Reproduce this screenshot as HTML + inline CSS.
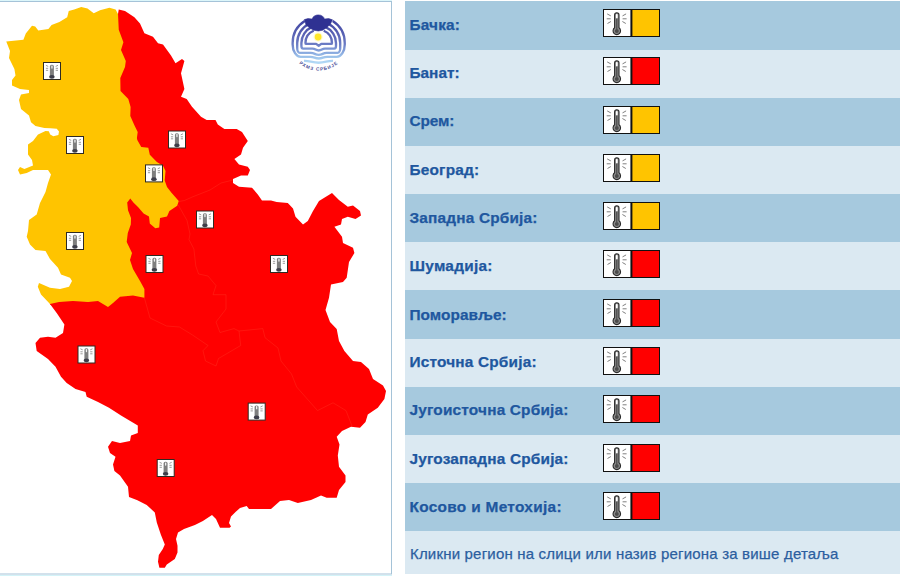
<!DOCTYPE html>
<html lang="sr"><head><meta charset="utf-8"><title>Упозорења</title>
<style>
html,body{margin:0;padding:0;background:#fff;}
body{width:900px;height:576px;overflow:hidden;position:relative;font-family:"Liberation Sans",sans-serif;}
#map{position:absolute;left:0;top:0;width:392px;height:576px;}
#tbl{position:absolute;left:405px;top:0;width:495px;height:576px;}
.row{position:absolute;left:0;width:495px;}
.d{background:#a6c9de;}
.l{background:#dbe9f2;}
.lab{position:absolute;left:4.5px;color:#20579f;font-weight:bold;font-size:15.4px;white-space:nowrap;line-height:16px;letter-spacing:0.18px;-webkit-text-stroke:0.25px #20579f;}
.li{position:absolute;left:198px;}
.note{position:absolute;left:5px;color:#2b5e9f;font-size:15px;white-space:nowrap;line-height:16px;letter-spacing:0.19px;-webkit-text-stroke:0.25px #2b5e9f;}
</style></head><body>

<svg id="map" width="392" height="576" viewBox="0 0 392 576">
<rect x="0" y="0" width="392" height="576" fill="#fff"/>
<rect x="-5" y="0" width="397" height="1" fill="#dcf6fa"/><rect x="-5" y="575" width="397" height="1" fill="#d3f3f8"/>
<rect x="-5" y="1.5" width="396.5" height="572.5" fill="none" stroke="#a5c3d8" stroke-width="1"/>
<polygon points="118.75,9.4 125,10.9 134.4,17.2 140,23.4 144.4,33.3 153,36.7 158,43.3 163,44.4 171,55.6 175.5,63.3 182,59 184.4,61 181,73.3 184.4,89 181,96.7 186.7,99 192,106.7 201,116.7 206.7,120 215.5,120 217.8,124.4 224.4,129 236.7,129 242,132 247.8,141 243,147.8 241,154.4 234.4,159 239,164.4 247.8,166.7 250,170 247.8,175.5 241,175.5 233,179 233,183 239,186.7 252,187.8 257.8,194.4 262,200.5 271,200.5 276.7,202 287.8,203 293,208.5 295.5,216.7 303,224.4 307.8,221 313,211 319,201 332,193 339,200 347.8,206.7 353,205.5 360,211 361,215.5 355.5,219 347.8,216.7 342,219 341,224.4 334.4,226.7 342,236.7 343,243 353,247.8 354.4,253 349,262 346.7,277.8 343,282 331,284.4 329,297.8 325.5,310 330,322 336.7,329 339,341 344.4,351 353,361 361,362 369,369 373,379 383,385.5 386,391 384.4,399 377.8,407.8 367.8,414.4 365.5,422 360,427.8 351,426.7 342,431 336.7,436.7 339.5,444.4 337.8,455.5 339,466.7 345.5,475.5 345.5,482 339,490 336.7,497.8 326.7,497.8 321,495.5 311,500 297.8,503 289,500 280,501 271,509 249,509 246.7,506 240,508 235.5,512 231,516.4 229,523 231,526.4 229.6,527.7 220,527.7 216,519 212,515 202.9,521 194.9,525 184,529 178,532.4 176,539 177.5,545.8 177.5,552.5 174.8,559 166.8,564.5 164.8,567.8 159.4,567.8 158,561.8 158.8,555 162.8,549 164.8,544.5 160.8,534.4 156.8,522.4 154.8,512.4 146.7,505 137.4,500.3 129,497 128,486.7 120,475.5 114.4,471 113,464.4 115.5,456.7 110,453 108,446.7 112,441 120,443 130,441 131,435.5 137.8,433 137.8,425.5 121,415.5 109,407.8 98,402 86.7,396.7 85.5,392 75.5,389 66.7,383 61,376.7 55.5,366.7 48,359 36.7,351 35.5,343 40,337.8 48,336.7 55.5,337.8 63,333 64.4,324.4 56.7,313 50,304 59,302 73,301 88,302 98,301 108,307 113,303 120,296.7 133,295.5 144.4,297.8 144.4,289 140,281 133,269 130,260 132,253 126.7,242 127.8,233 130.8,224.4 131,218 128,210.3 127.2,202.5 130.3,198.6 133.4,202.5 138,207 143.6,213.4 149,216.6 149.8,223.6 155.3,228.3 159.2,227.5 160,218 167,216.6 169.4,211 177.2,205.8 178.75,201 171.7,193 167,186.9 164.7,180.6 165.5,171 163,165.8 156.9,161.9 149.8,154.8 148.3,147.8 141.25,147 137.3,140 136.9,138 137.7,131.9 134.5,125.6 130.3,116 130.6,107 128.3,99 120.5,91 120.3,78 125,67 125.8,61 121,50 123.4,42.2 118.75,29.7 118,14" fill="#ff0000"/>
<polyline points="50,304 59,302 73,301 88,302 98,301 108,307 113,303 120,296.7 133,295.5 144.4,297.8 144.4,289 140,281 133,269 130,260 132,253 126.7,242 127.8,233 130.8,224.4 131,218 128,210.3 127.2,202.5 130.3,198.6 133.4,202.5 138,207 143.6,213.4 149,216.6 149.8,223.6 155.3,228.3 159.2,227.5 160,218 167,216.6 169.4,211 177.2,205.8 178.75,201 171.7,193 167,186.9 164.7,180.6 165.5,171 163,165.8 156.9,161.9 149.8,154.8 148.3,147.8 141.25,147 137.3,140 136.9,138 137.7,131.9 134.5,125.6 130.3,116 130.6,107 128.3,99 120.5,91 120.3,78 125,67 125.8,61 121,50 123.4,42.2 118.75,29.7 118,14" fill="none" stroke="#ff0000" stroke-width="1.6" stroke-linejoin="round"/>
<polygon points="118,14 115.6,9.4 109.4,7.8 100,10.2 93.75,13.3 87.5,8.6 81.25,7 74.2,9.4 68.75,10.9 67.2,17.2 59.4,21.9 51.6,25 48.4,28.9 38.3,30.5 35.2,26.6 32,25.8 25.8,33.6 23.4,39.8 6.25,41.4 10,51 9,58 14.4,69 15.5,75.5 12,80 12,85.5 20,89 29,90 29,93 21,94.4 19,100 21,109 29,115.5 31,122.2 35.5,126 44.4,128 50.5,128.3 56.8,128.8 59,131.5 58.4,135 53.3,136.3 50.2,134.5 48.8,131.3 45.5,131.1 38,134.4 33,141 28,144.4 28,154.4 32,160 33,165.5 24.4,169 20,167 18,170 20,174.4 26.7,173 33,170 48,170 51,174.4 48,183 45.5,192 40,203 36.7,214.4 29,220 28,231 26.7,236.7 30,244.4 35.5,250 45.5,251 50,259 58,267.8 61,274.4 70,277.8 72,281 69,286.7 60,289 50,287.8 39,283 37.8,286.7 41,294.4 50,304 59,302 73,301 88,302 98,301 108,307 113,303 120,296.7 133,295.5 144.4,297.8 144.4,289 140,281 133,269 130,260 132,253 126.7,242 127.8,233 130.8,224.4 131,218 128,210.3 127.2,202.5 130.3,198.6 133.4,202.5 138,207 143.6,213.4 149,216.6 149.8,223.6 155.3,228.3 159.2,227.5 160,218 167,216.6 169.4,211 177.2,205.8 178.75,201 171.7,193 167,186.9 164.7,180.6 165.5,171 163,165.8 156.9,161.9 149.8,154.8 148.3,147.8 141.25,147 137.3,140 136.9,138 137.7,131.9 134.5,125.6 130.3,116 130.6,107 128.3,99 120.5,91 120.3,78 125,67 125.8,61 121,50 123.4,42.2 118.75,29.7" fill="#ffc400"/>
<polyline points="178.75,201.5 184.4,200.5 193,196.7 210,190 221,183 233,180" fill="none" stroke="#ff4a30" stroke-width="0.9" opacity="0.32" stroke-linejoin="round"/>
<polyline points="178.3,205 187,220.5 190,234 189,239.6 193.9,249 195.8,266 198.6,274 208,276 216,285.6 213,294.7 226,294.7 226,309 216,322 220,332.5 234,328.6 239,331" fill="none" stroke="#ff4a30" stroke-width="0.9" opacity="0.32" stroke-linejoin="round"/>
<polyline points="239,331 262.8,328.6 265,337.7 278,348 281,361 291.5,374 296.7,387 317.5,410.6 333,402.8 346,410.6 352,426" fill="none" stroke="#ff4a30" stroke-width="0.9" opacity="0.32" stroke-linejoin="round"/>
<polyline points="239,331 240.7,345.5 218.5,358.5 216,366 205.5,361 203,350.7 208,345.5 192.5,335 179.5,327 166.5,326 150,318 144.4,297.8" fill="none" stroke="#ff4a30" stroke-width="0.9" opacity="0.32" stroke-linejoin="round"/>
<g transform="translate(43,62)"><rect x="0.5" y="0.5" width="17" height="17" fill="#fff" stroke="#2e2a22" stroke-width="1"/>
<rect x="6.900" y="2.800" width="4" height="12.500" rx="1.700" fill="#7e7e7e"/><rect x="8.300" y="3.500" width="1.300" height="3.200" rx="0.600" fill="#f0f0f0"/>
<ellipse cx="8.900" cy="14.800" rx="2.800" ry="1.850" fill="#3e3e4a"/>
<path d="M2.900 3.300l2.300 1.100M2.900 6.300h2.300M2.900 8.300h2.300M15 3.300l-2.300 1.100M15 6.300h-2.300M15 8.300h-2.300" stroke="#9c9c9c" stroke-width="1"/></g>
<g transform="translate(66,136)"><rect x="0.5" y="0.5" width="17" height="17" fill="#fff" stroke="#2e2a22" stroke-width="1"/>
<rect x="6.900" y="2.800" width="4" height="12.500" rx="1.700" fill="#7e7e7e"/><rect x="8.300" y="3.500" width="1.300" height="3.200" rx="0.600" fill="#f0f0f0"/>
<ellipse cx="8.900" cy="14.800" rx="2.800" ry="1.850" fill="#3e3e4a"/>
<path d="M2.900 3.300l2.300 1.100M2.900 6.300h2.300M2.900 8.300h2.300M15 3.300l-2.300 1.100M15 6.300h-2.300M15 8.300h-2.300" stroke="#9c9c9c" stroke-width="1"/></g>
<g transform="translate(168,130.5)"><rect x="0.5" y="0.5" width="17" height="17" fill="#fff" stroke="#2e2a22" stroke-width="1"/>
<rect x="6.900" y="2.800" width="4" height="12.500" rx="1.700" fill="#7e7e7e"/><rect x="8.300" y="3.500" width="1.300" height="3.200" rx="0.600" fill="#f0f0f0"/>
<ellipse cx="8.900" cy="14.800" rx="2.800" ry="1.850" fill="#3e3e4a"/>
<path d="M2.900 3.300l2.300 1.100M2.900 6.300h2.300M2.900 8.300h2.300M15 3.300l-2.300 1.100M15 6.300h-2.300M15 8.300h-2.300" stroke="#9c9c9c" stroke-width="1"/></g>
<g transform="translate(145.0,164.4)"><rect x="0.5" y="0.5" width="17" height="17" fill="#fff" stroke="#2e2a22" stroke-width="1"/>
<rect x="6.900" y="2.800" width="4" height="12.500" rx="1.700" fill="#7e7e7e"/><rect x="8.300" y="3.500" width="1.300" height="3.200" rx="0.600" fill="#f0f0f0"/>
<ellipse cx="8.900" cy="14.800" rx="2.800" ry="1.850" fill="#3e3e4a"/>
<path d="M2.900 3.300l2.300 1.100M2.900 6.300h2.300M2.900 8.300h2.300M15 3.300l-2.300 1.100M15 6.300h-2.300M15 8.300h-2.300" stroke="#9c9c9c" stroke-width="1"/></g>
<g transform="translate(66,232)"><rect x="0.5" y="0.5" width="17" height="17" fill="#fff" stroke="#2e2a22" stroke-width="1"/>
<rect x="6.900" y="2.800" width="4" height="12.500" rx="1.700" fill="#7e7e7e"/><rect x="8.300" y="3.500" width="1.300" height="3.200" rx="0.600" fill="#f0f0f0"/>
<ellipse cx="8.900" cy="14.800" rx="2.800" ry="1.850" fill="#3e3e4a"/>
<path d="M2.900 3.300l2.300 1.100M2.900 6.300h2.300M2.900 8.300h2.300M15 3.300l-2.300 1.100M15 6.300h-2.300M15 8.300h-2.300" stroke="#9c9c9c" stroke-width="1"/></g>
<g transform="translate(145.5,255)"><rect x="0.5" y="0.5" width="17" height="17" fill="#fff" stroke="#2e2a22" stroke-width="1"/>
<rect x="6.900" y="2.800" width="4" height="12.500" rx="1.700" fill="#7e7e7e"/><rect x="8.300" y="3.500" width="1.300" height="3.200" rx="0.600" fill="#f0f0f0"/>
<ellipse cx="8.900" cy="14.800" rx="2.800" ry="1.850" fill="#3e3e4a"/>
<path d="M2.900 3.300l2.300 1.100M2.900 6.300h2.300M2.900 8.300h2.300M15 3.300l-2.300 1.100M15 6.300h-2.300M15 8.300h-2.300" stroke="#9c9c9c" stroke-width="1"/></g>
<g transform="translate(196,210.5)"><rect x="0.5" y="0.5" width="17" height="17" fill="#fff" stroke="#2e2a22" stroke-width="1"/>
<rect x="6.900" y="2.800" width="4" height="12.500" rx="1.700" fill="#7e7e7e"/><rect x="8.300" y="3.500" width="1.300" height="3.200" rx="0.600" fill="#f0f0f0"/>
<ellipse cx="8.900" cy="14.800" rx="2.800" ry="1.850" fill="#3e3e4a"/>
<path d="M2.900 3.300l2.300 1.100M2.900 6.300h2.300M2.900 8.300h2.300M15 3.300l-2.300 1.100M15 6.300h-2.300M15 8.300h-2.300" stroke="#9c9c9c" stroke-width="1"/></g>
<g transform="translate(270,255)"><rect x="0.5" y="0.5" width="17" height="17" fill="#fff" stroke="#2e2a22" stroke-width="1"/>
<rect x="6.900" y="2.800" width="4" height="12.500" rx="1.700" fill="#7e7e7e"/><rect x="8.300" y="3.500" width="1.300" height="3.200" rx="0.600" fill="#f0f0f0"/>
<ellipse cx="8.900" cy="14.800" rx="2.800" ry="1.850" fill="#3e3e4a"/>
<path d="M2.900 3.300l2.300 1.100M2.900 6.300h2.300M2.900 8.300h2.300M15 3.300l-2.300 1.100M15 6.300h-2.300M15 8.300h-2.300" stroke="#9c9c9c" stroke-width="1"/></g>
<g transform="translate(77.5,345.5)"><rect x="0.5" y="0.5" width="17" height="17" fill="#fff" stroke="#2e2a22" stroke-width="1"/>
<rect x="6.900" y="2.800" width="4" height="12.500" rx="1.700" fill="#7e7e7e"/><rect x="8.300" y="3.500" width="1.300" height="3.200" rx="0.600" fill="#f0f0f0"/>
<ellipse cx="8.900" cy="14.800" rx="2.800" ry="1.850" fill="#3e3e4a"/>
<path d="M2.900 3.300l2.300 1.100M2.900 6.300h2.300M2.900 8.300h2.300M15 3.300l-2.300 1.100M15 6.300h-2.300M15 8.300h-2.300" stroke="#9c9c9c" stroke-width="1"/></g>
<g transform="translate(247.7,402.6)"><rect x="0.5" y="0.5" width="17" height="17" fill="#fff" stroke="#2e2a22" stroke-width="1"/>
<rect x="6.900" y="2.800" width="4" height="12.500" rx="1.700" fill="#7e7e7e"/><rect x="8.300" y="3.500" width="1.300" height="3.200" rx="0.600" fill="#f0f0f0"/>
<ellipse cx="8.900" cy="14.800" rx="2.800" ry="1.850" fill="#3e3e4a"/>
<path d="M2.900 3.300l2.300 1.100M2.900 6.300h2.300M2.900 8.300h2.300M15 3.300l-2.300 1.100M15 6.300h-2.300M15 8.300h-2.300" stroke="#9c9c9c" stroke-width="1"/></g>
<g transform="translate(156.7,459)"><rect x="0.5" y="0.5" width="17" height="17" fill="#fff" stroke="#2e2a22" stroke-width="1"/>
<rect x="6.900" y="2.800" width="4" height="12.500" rx="1.700" fill="#7e7e7e"/><rect x="8.300" y="3.500" width="1.300" height="3.200" rx="0.600" fill="#f0f0f0"/>
<ellipse cx="8.900" cy="14.800" rx="2.800" ry="1.850" fill="#3e3e4a"/>
<path d="M2.900 3.300l2.300 1.100M2.900 6.300h2.300M2.900 8.300h2.300M15 3.300l-2.300 1.100M15 6.300h-2.300M15 8.300h-2.300" stroke="#9c9c9c" stroke-width="1"/></g>
<g id="logo"><defs><linearGradient id="lg" gradientUnits="userSpaceOnUse" x1="0" y1="16" x2="0" y2="63"><stop offset="0" stop-color="#3a3c9e"/><stop offset="0.25" stop-color="#4d54ab"/><stop offset="0.45" stop-color="#5f69b8"/><stop offset="0.6" stop-color="#6b7cc4"/><stop offset="0.74" stop-color="#82a0da"/><stop offset="0.88" stop-color="#9fc5ec"/><stop offset="1" stop-color="#b2dAf6"/></linearGradient></defs>
<g fill="none" stroke="url(#lg)" stroke-width="2.35" stroke-linejoin="round">
<path d="M304.70 21.03 A26.05 26.05 0 0 0 292.65 43.00 V44.40 C292.65 51.27 296.25 56.90 300.65 56.90 H310.20 C314.45 56.90 314.45 58.50 318.70 58.50 C322.95 58.50 322.95 56.90 327.20 56.90 H336.75 C341.15 56.90 344.75 51.27 344.75 44.40 V43.00 A26.05 26.05 0 0 0 332.70 21.03"/>
<path d="M309.20 23.71 A21.5 21.5 0 0 0 297.20 43.00 V47.90 C297.20 50.65 298.37 52.90 299.80 52.90 H310.70 C314.70 52.90 314.70 54.80 318.70 54.80 C322.70 54.80 322.70 52.90 326.70 52.90 H337.60 C339.03 52.90 340.20 50.65 340.20 47.90 V43.00 A21.5 21.5 0 0 0 328.20 23.71"/>
<path d="M311.70 27.18 A17.3 17.3 0 0 0 301.40 43.00 V45.80 C301.40 47.34 302.16 48.60 303.10 48.60 H312.40 C315.55 48.60 315.55 50.50 318.70 50.50 C321.85 50.50 321.85 48.60 325.00 48.60 H334.30 C335.24 48.60 336.00 47.34 336.00 45.80 V43.00 A17.3 17.3 0 0 0 325.70 27.18"/>
<path d="M313.70 30.73 A13.25 13.25 0 0 0 305.45 42.90 V42.90 C305.45 43.45 305.81 43.90 306.25 43.90 H316.10 L318.70 45.80 L321.30 43.90 H331.15 C331.59 43.90 331.95 43.45 331.95 42.90 V42.90 A13.25 13.25 0 0 0 323.70 30.73"/>
<path d="M304 60.9 C309 60.6 312 62.7 318.7 62.7 C325 62.7 328 60.6 333 60.9"/>
</g>
<path d="M304.3 19.6 L308 18.6 L312.2 19.1 C312.6 16.6 315.2 14.9 318.3 14.9 C321.6 14.9 324 16.6 324.4 19.1 L328.6 18.6 L332.5 19.8 L330.4 24 L326.9 27.4 L322.7 30.2 L318.2 31 L313.7 30.2 L309.5 27.8 L306 24.7 Z" fill="#2f3192" stroke="#2f3192" stroke-width="0.6" stroke-linejoin="round"/>
<circle cx="318.1" cy="37" r="4.7" fill="#fffbd6"/><circle cx="318.1" cy="37" r="3.4" fill="#ffe62a"/>
<path id="lt" d="M296.32 60.87 A30.6 30.6 0 0 0 341.08 60.87" fill="none"/>
<text font-family="Liberation Sans, sans-serif" font-size="4.6" font-weight="bold" fill="#4a4e96" letter-spacing="0.9" text-anchor="middle"><textPath href="#lt" startOffset="50%">РХМЗ СРБИЈЕ</textPath></text></g>
</svg>
<div id="tbl">
<div class="row d" style="top:1.0px;height:49.7px"><span class="lab" style="top:16.45px;letter-spacing:0.18px">Бачка:</span></div><div style="position:absolute;left:0;top:9.00px"><svg class="li" width="57" height="28" viewBox="0 0 57 28"><rect x="0.5" y="0.5" width="56" height="27" fill="#fff" stroke="#111" stroke-width="1"/>
<rect x="29" y="1" width="27" height="26" fill="#ffc400"/><rect x="27.4" y="0" width="2" height="28" fill="#111"/>
<path d="M11.6 5.9a2.2 2.2 0 0 1 4.4 0v12.9a3.75 3.750 0 1 1 -4.4 0z" fill="#8c8c8c" stroke="#2b2b2b" stroke-width="1.1"/>
<rect x="12.900" y="4.900" width="1.800" height="4.300" rx="0.800" fill="#fff"/><circle cx="13.800" cy="22" r="2" fill="#4c4c4c"/><rect x="13.150" y="9.800" width="1.300" height="10.500" fill="#4c4c4c"/>
<path d="M4.200 4.900l3.600 2M3.700 9.800h4M4.500 14.500l3.400-2M23.100 4.900l-3.600 2M23.600 9.800h-4M22.800 14.500l-3.400-2" stroke="#808080" stroke-width="1" fill="none"/></svg></div>
<div class="row l" style="top:49.7px;height:48.8px"><span class="lab" style="top:15.62px;letter-spacing:0.0px">Банат:</span></div><div style="position:absolute;left:0;top:57.28px"><svg class="li" width="57" height="28" viewBox="0 0 57 28"><rect x="0.5" y="0.5" width="56" height="27" fill="#fff" stroke="#111" stroke-width="1"/>
<rect x="29" y="1" width="27" height="26" fill="#ff0000"/><rect x="27.4" y="0" width="2" height="28" fill="#111"/>
<path d="M11.6 5.9a2.2 2.2 0 0 1 4.4 0v12.9a3.75 3.750 0 1 1 -4.4 0z" fill="#8c8c8c" stroke="#2b2b2b" stroke-width="1.1"/>
<rect x="12.900" y="4.900" width="1.800" height="4.300" rx="0.800" fill="#fff"/><circle cx="13.800" cy="22" r="2" fill="#4c4c4c"/><rect x="13.150" y="9.800" width="1.300" height="10.500" fill="#4c4c4c"/>
<path d="M4.200 4.900l3.600 2M3.700 9.800h4M4.500 14.500l3.400-2M23.100 4.900l-3.600 2M23.600 9.800h-4M22.800 14.500l-3.400-2" stroke="#808080" stroke-width="1" fill="none"/></svg></div>
<div class="row d" style="top:97.5px;height:49.099999999999994px"><span class="lab" style="top:15.79px;letter-spacing:-0.12px">Срем:</span></div><div style="position:absolute;left:0;top:105.56px"><svg class="li" width="57" height="28" viewBox="0 0 57 28"><rect x="0.5" y="0.5" width="56" height="27" fill="#fff" stroke="#111" stroke-width="1"/>
<rect x="29" y="1" width="27" height="26" fill="#ffc400"/><rect x="27.4" y="0" width="2" height="28" fill="#111"/>
<path d="M11.6 5.9a2.2 2.2 0 0 1 4.4 0v12.9a3.75 3.750 0 1 1 -4.4 0z" fill="#8c8c8c" stroke="#2b2b2b" stroke-width="1.1"/>
<rect x="12.900" y="4.900" width="1.800" height="4.300" rx="0.800" fill="#fff"/><circle cx="13.800" cy="22" r="2" fill="#4c4c4c"/><rect x="13.150" y="9.800" width="1.300" height="10.500" fill="#4c4c4c"/>
<path d="M4.200 4.900l3.600 2M3.700 9.800h4M4.500 14.500l3.400-2M23.100 4.900l-3.600 2M23.600 9.800h-4M22.800 14.500l-3.400-2" stroke="#808080" stroke-width="1" fill="none"/></svg></div>
<div class="row l" style="top:145.6px;height:49.20000000000002px"><span class="lab" style="top:15.96px;letter-spacing:0.18px">Београд:</span></div><div style="position:absolute;left:0;top:153.84px"><svg class="li" width="57" height="28" viewBox="0 0 57 28"><rect x="0.5" y="0.5" width="56" height="27" fill="#fff" stroke="#111" stroke-width="1"/>
<rect x="29" y="1" width="27" height="26" fill="#ffc400"/><rect x="27.4" y="0" width="2" height="28" fill="#111"/>
<path d="M11.6 5.9a2.2 2.2 0 0 1 4.4 0v12.9a3.75 3.750 0 1 1 -4.4 0z" fill="#8c8c8c" stroke="#2b2b2b" stroke-width="1.1"/>
<rect x="12.900" y="4.900" width="1.800" height="4.300" rx="0.800" fill="#fff"/><circle cx="13.800" cy="22" r="2" fill="#4c4c4c"/><rect x="13.150" y="9.800" width="1.300" height="10.500" fill="#4c4c4c"/>
<path d="M4.200 4.900l3.600 2M3.700 9.800h4M4.500 14.500l3.400-2M23.100 4.900l-3.600 2M23.600 9.800h-4M22.800 14.500l-3.400-2" stroke="#808080" stroke-width="1" fill="none"/></svg></div>
<div class="row d" style="top:193.8px;height:49.39999999999998px"><span class="lab" style="top:16.13px;letter-spacing:0.18px">Западна Србија:</span></div><div style="position:absolute;left:0;top:202.12px"><svg class="li" width="57" height="28" viewBox="0 0 57 28"><rect x="0.5" y="0.5" width="56" height="27" fill="#fff" stroke="#111" stroke-width="1"/>
<rect x="29" y="1" width="27" height="26" fill="#ffc400"/><rect x="27.4" y="0" width="2" height="28" fill="#111"/>
<path d="M11.6 5.9a2.2 2.2 0 0 1 4.4 0v12.9a3.75 3.750 0 1 1 -4.4 0z" fill="#8c8c8c" stroke="#2b2b2b" stroke-width="1.1"/>
<rect x="12.900" y="4.900" width="1.800" height="4.300" rx="0.800" fill="#fff"/><circle cx="13.800" cy="22" r="2" fill="#4c4c4c"/><rect x="13.150" y="9.800" width="1.300" height="10.500" fill="#4c4c4c"/>
<path d="M4.200 4.900l3.600 2M3.700 9.800h4M4.500 14.500l3.400-2M23.100 4.900l-3.600 2M23.600 9.800h-4M22.800 14.500l-3.400-2" stroke="#808080" stroke-width="1" fill="none"/></svg></div>
<div class="row l" style="top:242.2px;height:49.10000000000002px"><span class="lab" style="top:16.30px;letter-spacing:0.28px">Шумадија:</span></div><div style="position:absolute;left:0;top:250.40px"><svg class="li" width="57" height="28" viewBox="0 0 57 28"><rect x="0.5" y="0.5" width="56" height="27" fill="#fff" stroke="#111" stroke-width="1"/>
<rect x="29" y="1" width="27" height="26" fill="#ff0000"/><rect x="27.4" y="0" width="2" height="28" fill="#111"/>
<path d="M11.6 5.9a2.2 2.2 0 0 1 4.4 0v12.9a3.75 3.750 0 1 1 -4.4 0z" fill="#8c8c8c" stroke="#2b2b2b" stroke-width="1.1"/>
<rect x="12.900" y="4.900" width="1.800" height="4.300" rx="0.800" fill="#fff"/><circle cx="13.800" cy="22" r="2" fill="#4c4c4c"/><rect x="13.150" y="9.800" width="1.300" height="10.500" fill="#4c4c4c"/>
<path d="M4.200 4.900l3.600 2M3.700 9.800h4M4.500 14.500l3.400-2M23.100 4.900l-3.600 2M23.600 9.800h-4M22.800 14.500l-3.400-2" stroke="#808080" stroke-width="1" fill="none"/></svg></div>
<div class="row d" style="top:290.3px;height:49.30000000000001px"><span class="lab" style="top:16.47px;letter-spacing:0.03px">Поморавље:</span></div><div style="position:absolute;left:0;top:298.68px"><svg class="li" width="57" height="28" viewBox="0 0 57 28"><rect x="0.5" y="0.5" width="56" height="27" fill="#fff" stroke="#111" stroke-width="1"/>
<rect x="29" y="1" width="27" height="26" fill="#ff0000"/><rect x="27.4" y="0" width="2" height="28" fill="#111"/>
<path d="M11.6 5.9a2.2 2.2 0 0 1 4.4 0v12.9a3.75 3.750 0 1 1 -4.4 0z" fill="#8c8c8c" stroke="#2b2b2b" stroke-width="1.1"/>
<rect x="12.900" y="4.900" width="1.800" height="4.300" rx="0.800" fill="#fff"/><circle cx="13.800" cy="22" r="2" fill="#4c4c4c"/><rect x="13.150" y="9.800" width="1.300" height="10.500" fill="#4c4c4c"/>
<path d="M4.200 4.900l3.600 2M3.700 9.800h4M4.500 14.500l3.400-2M23.100 4.900l-3.600 2M23.600 9.800h-4M22.800 14.500l-3.400-2" stroke="#808080" stroke-width="1" fill="none"/></svg></div>
<div class="row l" style="top:338.6px;height:49.099999999999966px"><span class="lab" style="top:15.64px;letter-spacing:0.18px">Источна Србија:</span></div><div style="position:absolute;left:0;top:346.96px"><svg class="li" width="57" height="28" viewBox="0 0 57 28"><rect x="0.5" y="0.5" width="56" height="27" fill="#fff" stroke="#111" stroke-width="1"/>
<rect x="29" y="1" width="27" height="26" fill="#ff0000"/><rect x="27.4" y="0" width="2" height="28" fill="#111"/>
<path d="M11.6 5.9a2.2 2.2 0 0 1 4.4 0v12.9a3.75 3.750 0 1 1 -4.4 0z" fill="#8c8c8c" stroke="#2b2b2b" stroke-width="1.1"/>
<rect x="12.900" y="4.900" width="1.800" height="4.300" rx="0.800" fill="#fff"/><circle cx="13.800" cy="22" r="2" fill="#4c4c4c"/><rect x="13.150" y="9.800" width="1.300" height="10.500" fill="#4c4c4c"/>
<path d="M4.200 4.900l3.600 2M3.700 9.800h4M4.500 14.500l3.400-2M23.100 4.900l-3.600 2M23.600 9.800h-4M22.800 14.500l-3.400-2" stroke="#808080" stroke-width="1" fill="none"/></svg></div>
<div class="row d" style="top:386.7px;height:49.19999999999999px"><span class="lab" style="top:15.81px;letter-spacing:0.18px">Југоисточна Србија:</span></div><div style="position:absolute;left:0;top:395.24px"><svg class="li" width="57" height="28" viewBox="0 0 57 28"><rect x="0.5" y="0.5" width="56" height="27" fill="#fff" stroke="#111" stroke-width="1"/>
<rect x="29" y="1" width="27" height="26" fill="#ff0000"/><rect x="27.4" y="0" width="2" height="28" fill="#111"/>
<path d="M11.6 5.9a2.2 2.2 0 0 1 4.4 0v12.9a3.75 3.750 0 1 1 -4.4 0z" fill="#8c8c8c" stroke="#2b2b2b" stroke-width="1.1"/>
<rect x="12.900" y="4.900" width="1.800" height="4.300" rx="0.800" fill="#fff"/><circle cx="13.800" cy="22" r="2" fill="#4c4c4c"/><rect x="13.150" y="9.800" width="1.300" height="10.500" fill="#4c4c4c"/>
<path d="M4.200 4.900l3.600 2M3.700 9.800h4M4.500 14.500l3.400-2M23.100 4.900l-3.600 2M23.600 9.800h-4M22.800 14.500l-3.400-2" stroke="#808080" stroke-width="1" fill="none"/></svg></div>
<div class="row l" style="top:434.9px;height:49.10000000000002px"><span class="lab" style="top:15.98px;letter-spacing:0.18px">Југозападна Србија:</span></div><div style="position:absolute;left:0;top:443.52px"><svg class="li" width="57" height="28" viewBox="0 0 57 28"><rect x="0.5" y="0.5" width="56" height="27" fill="#fff" stroke="#111" stroke-width="1"/>
<rect x="29" y="1" width="27" height="26" fill="#ff0000"/><rect x="27.4" y="0" width="2" height="28" fill="#111"/>
<path d="M11.6 5.9a2.2 2.2 0 0 1 4.4 0v12.9a3.75 3.750 0 1 1 -4.4 0z" fill="#8c8c8c" stroke="#2b2b2b" stroke-width="1.1"/>
<rect x="12.900" y="4.900" width="1.800" height="4.300" rx="0.800" fill="#fff"/><circle cx="13.800" cy="22" r="2" fill="#4c4c4c"/><rect x="13.150" y="9.800" width="1.300" height="10.500" fill="#4c4c4c"/>
<path d="M4.200 4.900l3.600 2M3.700 9.800h4M4.500 14.500l3.400-2M23.100 4.900l-3.600 2M23.600 9.800h-4M22.800 14.500l-3.400-2" stroke="#808080" stroke-width="1" fill="none"/></svg></div>
<div class="row d" style="top:483px;height:49.299999999999955px"><span class="lab" style="top:16.15px;letter-spacing:0.31px">Косово и Метохија:</span></div><div style="position:absolute;left:0;top:491.80px"><svg class="li" width="57" height="28" viewBox="0 0 57 28"><rect x="0.5" y="0.5" width="56" height="27" fill="#fff" stroke="#111" stroke-width="1"/>
<rect x="29" y="1" width="27" height="26" fill="#ff0000"/><rect x="27.4" y="0" width="2" height="28" fill="#111"/>
<path d="M11.6 5.9a2.2 2.2 0 0 1 4.4 0v12.9a3.75 3.750 0 1 1 -4.4 0z" fill="#8c8c8c" stroke="#2b2b2b" stroke-width="1.1"/>
<rect x="12.900" y="4.900" width="1.800" height="4.300" rx="0.800" fill="#fff"/><circle cx="13.800" cy="22" r="2" fill="#4c4c4c"/><rect x="13.150" y="9.800" width="1.300" height="10.500" fill="#4c4c4c"/>
<path d="M4.200 4.900l3.600 2M3.700 9.800h4M4.500 14.500l3.400-2M23.100 4.900l-3.600 2M23.600 9.800h-4M22.800 14.500l-3.400-2" stroke="#808080" stroke-width="1" fill="none"/></svg></div>
<div class="row l" style="top:531.3px;height:42.700000000000045px"><span class="note" style="top:14.5px">Кликни регион на слици или назив региона за више детаља</span></div>
</div></body></html>
